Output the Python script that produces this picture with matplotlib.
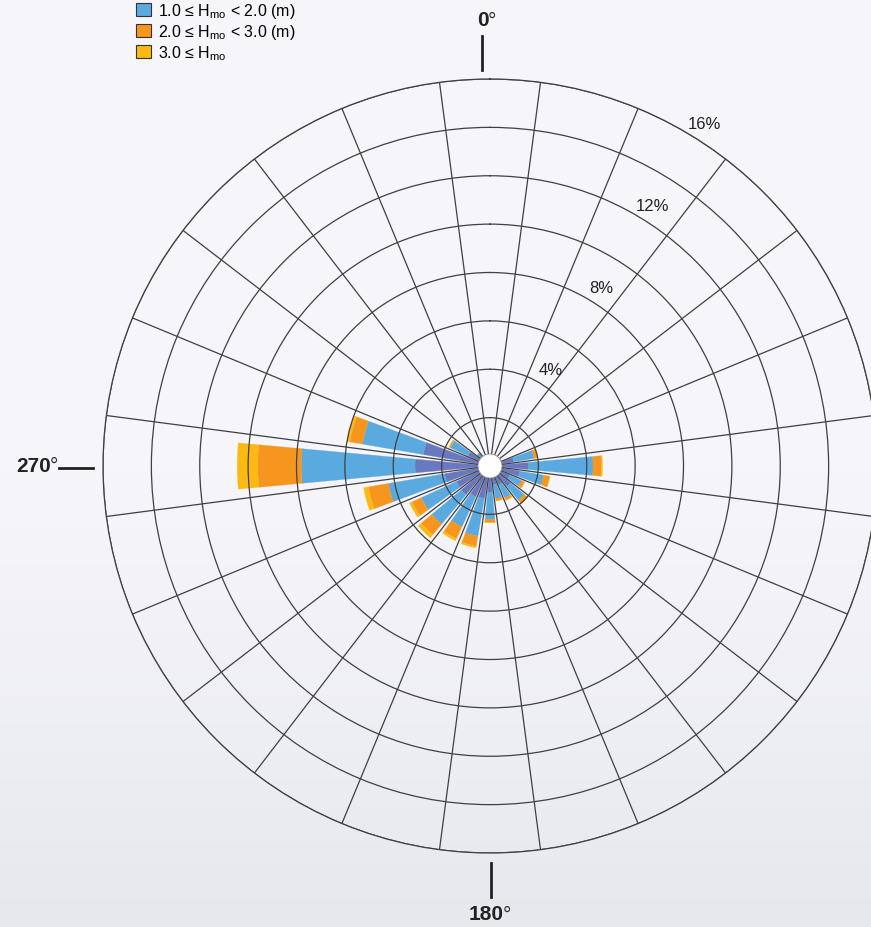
import numpy as np
import matplotlib.pyplot as plt
from matplotlib.patches import Patch, Circle
from matplotlib.lines import Line2D

plt.rcParams['font.family'] = ['Liberation Sans', 'DejaVu Sans']
plt.rcParams['mathtext.fontset'] = 'custom'
plt.rcParams['mathtext.rm'] = 'Liberation Sans'

# wave direction (deg, clockwise from north) and % occurrence per height class
directions = np.arange(0, 360, 15)
h_below_1 = [0.3, 0.3, 0.3, 0.3, 0.4, 1.0, 1.6, 1.25, 0.9, 1.1, 0.85, 0.8,
             1.1, 1.36, 1.4, 1.55, 1.53, 1.9, 3.1, 2.8, 1.0, 0.55, 0.4, 0.3]
h_1_to_2 = [0.05, 0.05, 0.05, 0.05, 0.1, 0.84, 2.66, 1.0, 0.53, 0.74, 0.6, 0.57,
            1.1, 1.58, 1.37, 1.58, 1.6, 2.36, 4.7, 2.55, 0.8, 0.15, 0.05, 0.05]
h_2_to_3 = [0, 0, 0, 0, 0, 0.16, 0.34, 0.25, 0.14, 0.16, 0.11, 0.09,
            0.13, 0.42, 0.53, 0.57, 0.42, 0.84, 1.8, 0.53, 0.05, 0, 0, 0]
h_above_3 = [0, 0, 0, 0, 0, 0, 0.05, 0.02, 0.01, 0.02, 0.01, 0.01,
             0.02, 0.07, 0.1, 0.16, 0.11, 0.2, 0.85, 0.12, 0.02, 0, 0, 0]

classes = [h_below_1, h_1_to_2, h_2_to_3, h_above_3]
colors = ['#6a78c0', '#5aaadf', '#f6961f', '#fdb913']
labels = [None,
          '1.0 \u2264 H$_{\\mathrm{mo}}$ < 2.0 (m)',
          '2.0 \u2264 H$_{\\mathrm{mo}}$ < 3.0 (m)',
          '3.0 \u2264 H$_{\\mathrm{mo}}$']
ring_labels = [4, 8, 12, 16]

W, H = 871, 928
fig = plt.figure(figsize=(W / 100, H / 100), dpi=100)

# soft background, lighter at the top
bg = fig.add_axes([0, 0, 1, 1], zorder=-5)
grad = np.concatenate([np.zeros(50), np.linspace(0, 1, 50) ** 1.3])[:, None]
bg.imshow(grad, aspect='auto', extent=[0, 1, 0, 1], origin='upper',
          cmap=plt.matplotlib.colors.LinearSegmentedColormap.from_list(
              'bg', ['#f5f5fa', '#e6e8eb']))
bg.axis('off')

cx, cy, R = 490, 467, 387
ax = fig.add_axes([(cx - R) / W, (H - cy - R) / H, 2 * R / W, 2 * R / H],
                  projection='polar')
ax.set_facecolor('none')
ax.set_theta_zero_location('N')
ax.set_theta_direction(-1)

theta = np.deg2rad(directions)
bottom = np.zeros(len(directions))
for vals, col in zip(classes, colors):
    ax.bar(theta, vals, width=np.deg2rad(10.5), bottom=bottom,
           color=col, edgecolor=col, linewidth=0.2, zorder=1)
    bottom += np.array(vals)

ax.set_ylim(0, 16)
ax.set_rgrids(np.arange(2, 17, 2), labels=[])
ax.set_thetagrids(np.arange(7.5, 360, 15), labels=[])
ax.set_axisbelow(False)
ax.grid(True, color='#404040', linewidth=0.9)
ax.spines['polar'].set_color('#404040')
ax.spines['polar'].set_linewidth(0.9)
ax.tick_params(length=0)

for r in ring_labels:
    ax.text(np.deg2rad(32), r + 0.7, f'{r}%', ha='center', va='center',
            fontsize=12, color='#222222')

ax.add_artist(Circle((0.5, 0.5), 0.0155, transform=ax.transAxes,
                     facecolor='white', edgecolor='#999999', lw=0.6, zorder=5))

# compass labels with short tick lines
def fx(x):
    return x / W

def fy(y):
    return 1 - y / H

for x0, y0, x1, y1 in [(482, 37, 482, 71), (491, 864, 491, 898), (59, 469, 93, 469)]:
    fig.add_artist(Line2D([fx(x0), fx(x1)], [fy(y0), fy(y1)], color='#222222', lw=2))

for num, x, y in [('0', 489, 21), ('180', 504, 915), ('270', 51, 466)]:
    fig.text(fx(x), fy(y), num, ha='right', va='center', fontsize=15,
             fontweight='bold', color='#222222')
    fig.text(fx(x) - 0.001, fy(y), '\u00b0', ha='left', va='center', fontsize=15,
             color='#333333')

handles = [Patch(facecolor=c, edgecolor='#333333', linewidth=0.8)
           for c in colors[1:]]
fig.legend(handles, labels[1:], loc='upper left', bbox_to_anchor=(fx(125), fy(-9)),
           frameon=False, fontsize=11.5, handlelength=0.9, handleheight=0.85,
           handletextpad=0.45, labelspacing=0.12, borderpad=0.2)

plt.savefig('out.png', dpi=100, facecolor=fig.get_facecolor())
